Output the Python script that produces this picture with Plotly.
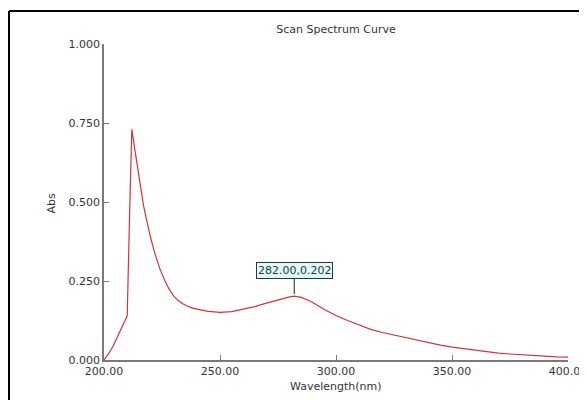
import plotly.graph_objects as go

wavelength = [200, 202, 204, 206, 208, 210, 211, 212, 213, 214, 215, 216, 217, 218, 219, 220,
              222, 224, 226, 228, 230, 232, 234, 236, 238, 240, 245, 250, 255, 260, 265, 270,
              275, 280, 282, 285, 288, 290, 295, 300, 305, 310, 315, 320, 325, 330, 335, 340,
              345, 350, 355, 360, 365, 370, 375, 380, 385, 390, 395, 400]
absorbance = [0.000, 0.020, 0.045, 0.075, 0.105, 0.140, 0.450, 0.730, 0.680, 0.630, 0.580, 0.530,
              0.490, 0.455, 0.420, 0.390, 0.335, 0.290, 0.255, 0.225, 0.203, 0.188, 0.178, 0.170,
              0.165, 0.161, 0.154, 0.151, 0.153, 0.160, 0.169, 0.180, 0.191, 0.200, 0.202, 0.198,
              0.189, 0.182, 0.160, 0.141, 0.125, 0.112, 0.097, 0.087, 0.079, 0.069, 0.061, 0.054,
              0.047, 0.041, 0.036, 0.031, 0.026, 0.022, 0.019, 0.016, 0.014, 0.012, 0.010, 0.009]
x_ticks = [200, 250, 300, 350, 400]
x_tick_labels = ["200.00", "250.00", "300.00", "350.00", "400.00"]
y_ticks = [0, 0.25, 0.5, 0.75, 1.0]
y_tick_labels = ["0.000", "0.250", "0.500", "0.750", "1.000"]
peak_x, peak_y = 282, 0.202
peak_label = "282.00,0.202"

FONT = "DejaVu Sans"
TXT = "#333333"

# page body has an 8px margin; the figure is sized so it ends at the window edge
W, H = 579, 392

fig = go.Figure()
fig.add_trace(go.Scatter(x=wavelength, y=absorbance, mode="lines",
                         line=dict(color="#d03535", width=1.2), hoverinfo="skip"))

fig.update_layout(
    width=W, height=H,
    margin=dict(l=96, r=19, t=36, b=40),
    paper_bgcolor="white", plot_bgcolor="white",
    showlegend=False,
    font=dict(family=FONT, size=11, color=TXT),
    title=dict(text="Scan Spectrum Curve", x=0.5, xref="paper", y=1 - 21 / H,
               yref="container", xanchor="center", yanchor="middle",
               font=dict(family=FONT, size=11, color=TXT)),
    xaxis=dict(range=[200, 400], tickvals=x_ticks, ticktext=x_tick_labels,
               showgrid=False, zeroline=False, showline=True, linecolor="#7a7a7a",
               linewidth=1.5, ticks="inside", ticklen=5, tickcolor="#7a7a7a",
               ticklabeloverflow="allow", automargin=False,
               tickfont=dict(family=FONT, size=11, color=TXT)),
    yaxis=dict(range=[0, 1], tickvals=y_ticks, ticktext=y_tick_labels,
               showgrid=False, zeroline=False, showline=True, linecolor="#7a7a7a",
               linewidth=1.5, ticks="inside", ticklen=5, tickcolor="#7a7a7a",
               ticklabeloverflow="allow", automargin=False,
               tickfont=dict(family=FONT, size=11, color=TXT)),
)

fig.add_annotation(x=peak_x, y=peak_y, text=peak_label, showarrow=True, arrowhead=0,
                   arrowwidth=1, arrowcolor="#222222", ax=0, ay=-26, standoff=2,
                   bgcolor="#dcfbfb", bordercolor="#333333", borderwidth=1, borderpad=1,
                   font=dict(family=FONT, size=11, color=TXT))
fig.add_annotation(x=-0.1315, y=0.497, xref="paper", yref="paper", text="Abs",
                   textangle=-90, showarrow=False, font=dict(family=FONT, size=11, color=TXT))
fig.add_annotation(x=0.5, y=-0.0854, xref="paper", yref="paper", text="Wavelength(nm)",
                   showarrow=False, yanchor="middle",
                   font=dict(family=FONT, size=11, color=TXT))

# outer frame (left and top edges)
fig.add_shape(type="line", xref="paper", yref="paper", x0=-0.2047, x1=-0.2047,
              y0=1.1044, y1=-0.2, line=dict(color="black", width=2))
fig.add_shape(type="line", xref="paper", yref="paper", x0=-0.2047, x1=1.1,
              y0=1.1044, y1=1.1044, line=dict(color="black", width=2))

fig.write_html("out.html")
